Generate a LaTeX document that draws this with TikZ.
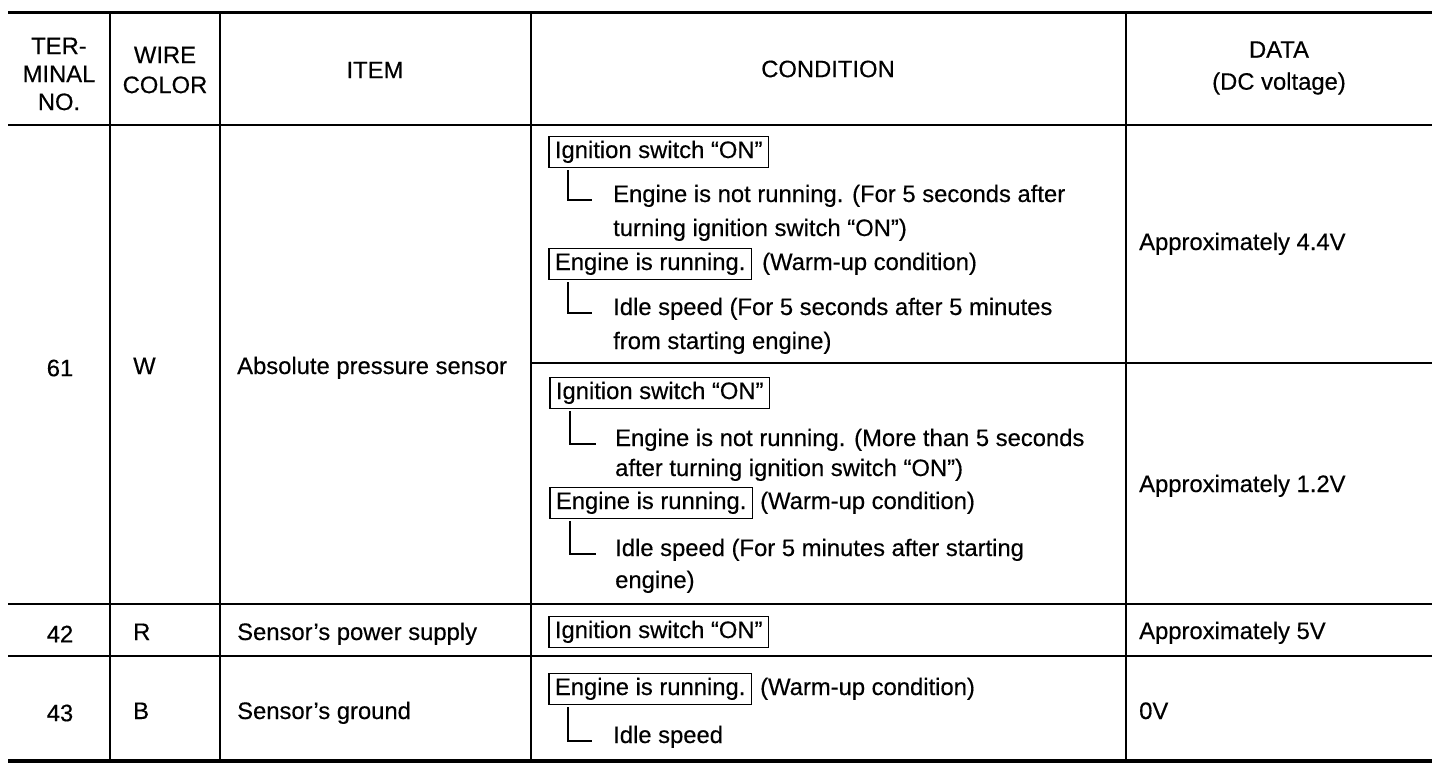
\documentclass[tikz,border=0pt]{standalone}
\usepackage{fontspec}
\setmainfont{Liberation Sans}[FakeBold=0.35]
\begin{document}
\begin{tikzpicture}[x=1pt,y=-1pt,
  every node/.style={font=\fontsize{23.8}{28}\selectfont, inner sep=0pt},
  rule/.style={line width=2.2pt},
  cbox/.style={draw, line width=1.8pt, inner xsep=6pt, minimum height=31pt, anchor=west, text height=17pt, text depth=5pt},
  txt/.style={anchor=west, text height=17pt, text depth=5pt},
  brk/.style={line width=1.9pt}]
\useasboundingbox (0,0) rectangle (1440,774);
\fill[white] (0,0) rectangle (1440,774);
% table rules
\draw[line width=3pt] (8,12) -- (1432,12);
\draw[line width=2.6pt] (8,125) -- (1432,125);
\draw[rule] (531,363) -- (1432,363);
\draw[rule] (8,604) -- (1432,604);
\draw[rule] (8,656) -- (1432,656);
\draw[line width=4.5pt] (8,761) -- (1432,761);
\foreach \cx in {110,220,531,1126} \draw[rule] (\cx,12) -- (\cx,761);
% header
\node[align=center] (h1) at (59,74) {TER-\\MINAL\\NO.};
\node[align=center, font=\fontsize{23.8}{30}\selectfont] (h2) at (165,70) {WIRE\\COLOR};
\node (h3) at (375,70) {ITEM};
\node (h4) at (828,69) {CONDITION};
\node[align=center, font=\fontsize{23.8}{32}\selectfont] (h5) at (1279,68) {DATA\\(DC voltage)};
% body left columns
\node (n61) at (60,368) {61};
\node[txt] (w61) at (133,368) {W};
\node[txt] (i61) at (237,368) {Absolute pressure sensor};
\node (n42) at (60,634) {42};
\node[txt] (w42) at (133,634) {R};
\node[txt] (i42) at (237,634) {Sensor’s power supply};
\node (n43) at (60,713) {43};
\node[txt] (w43) at (133,713) {B};
\node[txt] (i43) at (237,713) {Sensor’s ground};
% data
\node[txt] (d1) at (1139,244) {Approximately 4.4V};
\node[txt] (d2) at (1139,486) {Approximately 1.2V};
\node[txt] (d3) at (1139,633) {Approximately 5V};
\node[txt] (d4) at (1139,713) {0V};
% condition, first block
\node[cbox] (b1) at (548,152) {Ignition switch “ON”};
\node[txt] (t1a) at (613,196) {Engine is not running. (For 5 seconds after};
\node[txt] (t1b) at (613,230) {turning ignition switch “ON”)};
\node[cbox] (b2) at (548,264) {Engine is running.};
\node[txt] (t2x) at (762,264) {(Warm-up condition)};
\node[txt] (t2a) at (613,309) {Idle speed (For 5 seconds after 5 minutes};
\node[txt] (t2b) at (613,343) {from starting engine)};
\draw[brk] ([xshift=20pt,yshift=-2pt]b1.south west) |- ([xshift=-21pt,yshift=-4pt]t1a.west);
\draw[brk] ([xshift=20pt,yshift=-2pt]b2.south west) |- ([xshift=-21pt,yshift=-4pt]t2a.west);
% condition, second block
\node[cbox] (b3) at (549,393) {Ignition switch “ON”};
\node[txt] (t3a) at (615,440) {Engine is not running. (More than 5 seconds};
\node[txt] (t3b) at (615,470) {after turning ignition switch “ON”)};
\node[cbox] (b4) at (549,503) {Engine is running.};
\node[txt] (t4x) at (760,503) {(Warm-up condition)};
\node[txt] (t4a) at (615,550) {Idle speed (For 5 minutes after starting};
\node[txt] (t4b) at (615,582) {engine)};
\draw[brk] ([xshift=21pt,yshift=-2pt]b3.south west) |- ([xshift=-19pt,yshift=-4pt]t3a.west);
\draw[brk] ([xshift=21pt,yshift=-2pt]b4.south west) |- ([xshift=-19pt,yshift=-4pt]t4a.west);
% row 42
\node[cbox] (b5) at (548,632) {Ignition switch “ON”};
% row 43
\node[cbox] (b6) at (548,689) {Engine is running.};
\node[txt] (t6x) at (760,689) {(Warm-up condition)};
\node[txt] (t6a) at (613,737) {Idle speed};
\draw[brk] ([xshift=20pt,yshift=-2pt]b6.south west) |- ([xshift=-21pt,yshift=-4pt]t6a.west);
\end{tikzpicture}
\end{document}
